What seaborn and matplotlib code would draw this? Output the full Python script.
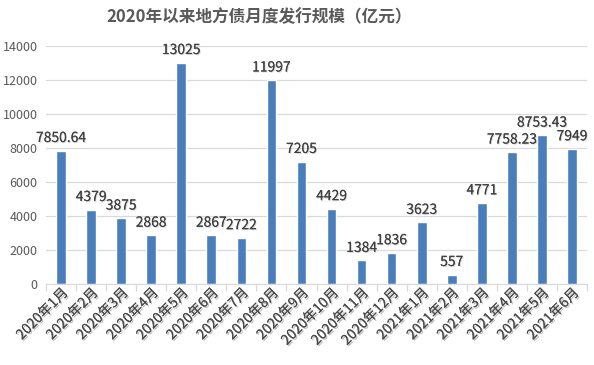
import pandas as pd
import matplotlib
matplotlib.use("Agg")
import matplotlib.pyplot as plt
import matplotlib.patheffects as pe
import seaborn as sns

months = ['2020年1月', '2020年2月', '2020年3月', '2020年4月', '2020年5月', '2020年6月',
          '2020年7月', '2020年8月', '2020年9月', '2020年10月', '2020年11月', '2020年12月',
          '2021年1月', '2021年2月', '2021年3月', '2021年4月', '2021年5月', '2021年6月']
amount = [7850.64, 4379, 3875, 2868, 13025, 2867, 2722, 11997, 7205, 4429,
          1384, 1836, 3623, 557, 4771, 7758.23, 8753.43, 7949]
label_text = ['7850.64', '4379', '3875', '2868', '13025', '2867', '2722', '11997', '7205', '4429',
              '1384', '1836', '3623', '557', '4771', '7758.23', '8753.43', '7949']
yticks = [0, 2000, 4000, 6000, 8000, 10000, 12000, 14000]

sns.set_style("white")
plt.rcParams['font.family'] = ['Noto Sans CJK SC', 'DejaVu Sans']
plt.rcParams['axes.unicode_minus'] = False

df = pd.DataFrame({'月份': months, '规模': amount})

fig = plt.figure(figsize=(5.94, 3.65), dpi=100)
ax = fig.add_axes([46 / 594, 81 / 365, 541 / 594, 238 / 365])
sns.barplot(data=df, x='月份', y='规模', color='#4A7EBB', width=0.32,
            saturation=1, ax=ax)

# 数据标签
for i, (v, t) in enumerate(zip(amount, label_text)):
    ax.annotate(t, (i, v), xytext=(0, 4), textcoords='offset points',
                ha='center', va='bottom', fontsize=10, color='#404040',
                path_effects=[pe.withSimplePatchShadow(offset=(0.7, -0.7), shadow_rgbFace='#c0c0c0', alpha=0.6), pe.Normal()])

ax.set_ylim(0, 14000)
ax.set_xlim(-0.5, len(months) - 0.5)
ax.set_yticks(yticks)
ax.set_yticklabels([str(y) for y in yticks], fontsize=9, color='#595959')
ax.yaxis.grid(True, color='#d9d9d9', linewidth=0.9)
ax.set_axisbelow(True)
ax.set_xlabel('')
ax.set_ylabel('')

# 类别之间的刻度线
ax.set_xticks([i - 0.5 for i in range(len(months) + 1)], minor=True)
ax.tick_params(axis='x', which='minor', length=5, color='#d9d9d9', width=0.9, bottom=True)
ax.tick_params(axis='x', which='major', length=0, pad=1)
ax.tick_params(axis='y', length=0, pad=6)
ax.set_xticks(range(len(months)))
ax.set_xticklabels(months, rotation=45, ha='right', rotation_mode='anchor',
                   fontsize=10, color='#4a4a4a')
for lab in ax.get_xticklabels():
    lab.set_path_effects([pe.withSimplePatchShadow(offset=(1, -1), shadow_rgbFace='#a0a0a0', alpha=0.7), pe.Normal()])

for s in ['top', 'right', 'left']:
    ax.spines[s].set_visible(False)
ax.spines['bottom'].set_color('#d9d9d9')

fig.text(0.437, 0.953, '2020年以来地方债月度发行规模（亿元）', ha='center', va='center',
         fontsize=12, fontweight='bold', color='#595959')

fig.savefig('out.png', dpi=100, facecolor='white')
